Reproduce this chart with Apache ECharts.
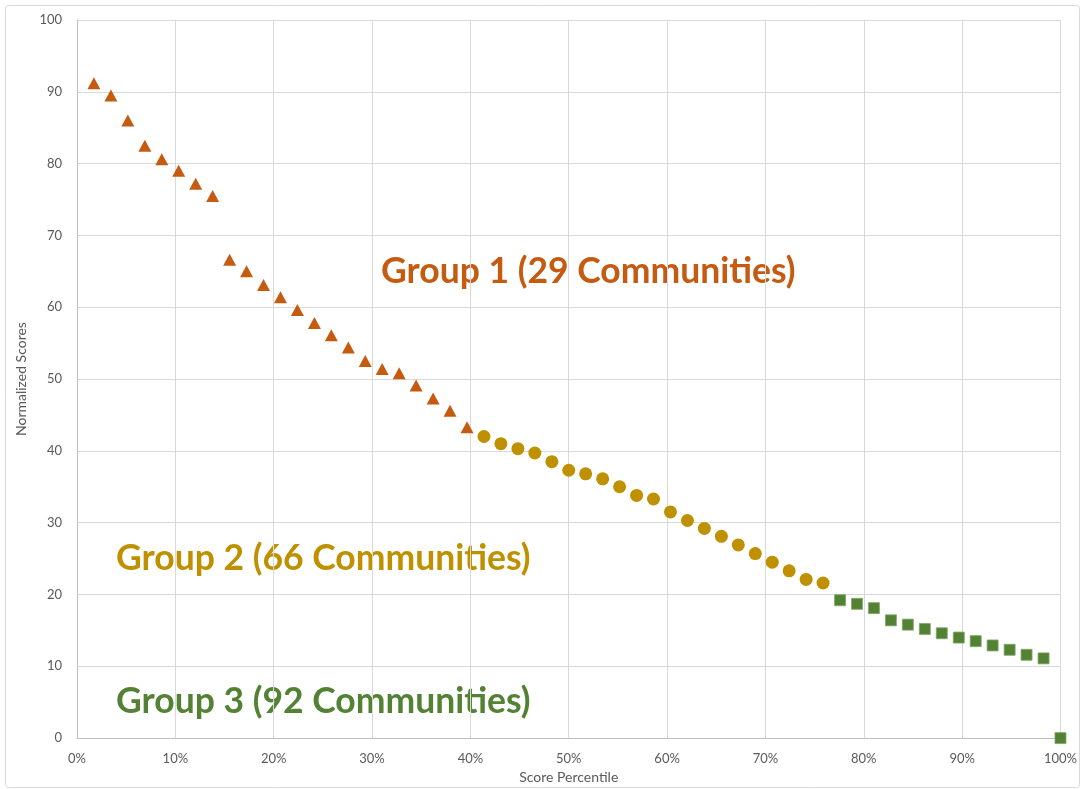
<!DOCTYPE html>
<html style="height: 100%">
<head>
    <meta charset="utf-8">
</head>
<body style="height: 100%; margin: 0; background: #fff">
<div id="container" style="width: 1080px; height: 789px"></div>
<script src="https://cdn.jsdelivr.net/npm/echarts@6/dist/echarts.min.js"></script>
<script type="text/javascript">
    // percentile rank of each community, and its normalized score
    var group1Pct = [1.72, 3.45, 5.17, 6.90, 8.62, 10.34, 12.07, 13.79, 15.52, 17.24, 18.97, 20.69,
        22.41, 24.14, 25.86, 27.59, 29.31, 31.03, 32.76, 34.48, 36.21, 37.93, 39.66];
    var group1Score = [91.2, 89.5, 86.0, 82.5, 80.6, 79.0, 77.2, 75.5, 66.6, 65.0, 63.1, 61.4,
        59.6, 57.8, 56.1, 54.4, 52.5, 51.4, 50.8, 49.1, 47.3, 45.6, 43.3];

    var group2Pct = [41.38, 43.10, 44.83, 46.55, 48.28, 50.00, 51.72, 53.45, 55.17, 56.90, 58.62,
        60.34, 62.07, 63.79, 65.52, 67.24, 68.97, 70.69, 72.41, 74.14, 75.86];
    var group2Score = [42.0, 41.0, 40.3, 39.7, 38.5, 37.3, 36.8, 36.1, 35.0, 33.8, 33.3,
        31.5, 30.3, 29.2, 28.1, 26.9, 25.7, 24.5, 23.3, 22.1, 21.6];

    var group3Pct = [77.59, 79.31, 81.03, 82.76, 84.48, 86.21, 87.93, 89.66, 91.38, 93.10,
        94.83, 96.55, 98.28, 100];
    var group3Score = [19.2, 18.7, 18.1, 16.4, 15.8, 15.2, 14.6, 14.0, 13.5, 12.9,
        12.3, 11.6, 11.1, 0];

    var groupLabels = ['Group 1 (29 Communities)', 'Group 2 (66 Communities)', 'Group 3 (92 Communities)'];
    var colors = ['#C55A11', '#BF9000', '#548235'];

    function pairs(xs, ys) {
        return xs.map(function (x, i) { return [x, ys[i]]; });
    }

    var dom = document.getElementById("container");
    var myChart = echarts.init(dom);
    var labelFont = 'Lato, "Noto Sans", sans-serif';

    var option = {
        animation: false,
        grid: {left: 77, right: 17, top: 20, bottom: 48},
        xAxis: {
            type: 'value',
            min: 0, max: 100, interval: 10,
            name: 'Score Percentile',
            nameLocation: 'middle',
            nameGap: 23,
            nameTextStyle: {color: '#595959', fontSize: 14, fontFamily: labelFont},
            axisLine: {show: true, lineStyle: {color: '#BFBFBF'}},
            axisTick: {show: false},
            axisLabel: {color: '#595959', fontSize: 13, formatter: '{value}%', margin: 14, fontFamily: labelFont},
            splitLine: {show: true, lineStyle: {color: '#D9D9D9'}}
        },
        yAxis: {
            type: 'value',
            min: 0, max: 100, interval: 10,
            name: 'Normalized Scores',
            nameLocation: 'middle',
            nameGap: 48,
            nameTextStyle: {color: '#595959', fontSize: 14, fontFamily: labelFont},
            axisLine: {show: true, lineStyle: {color: '#BFBFBF'}},
            axisTick: {show: false},
            axisLabel: {color: '#595959', fontSize: 13, margin: 15, fontFamily: labelFont},
            splitLine: {show: true, lineStyle: {color: '#D9D9D9'}}
        },
        series: [
            {
                type: 'scatter', name: groupLabels[0],
                symbol: 'triangle', symbolSize: [13, 12],
                itemStyle: {color: colors[0], opacity: 1},
                data: pairs(group1Pct, group1Score)
            },
            {
                type: 'scatter', name: groupLabels[1],
                symbol: 'circle', symbolSize: 13,
                itemStyle: {color: colors[1], opacity: 1},
                data: pairs(group2Pct, group2Score)
            },
            {
                type: 'scatter', name: groupLabels[2],
                symbol: 'rect', symbolSize: 11,
                itemStyle: {color: colors[2], opacity: 1, borderColor: '#7FA866', borderWidth: 0.8},
                data: pairs(group3Pct, group3Score)
            }
        ],
        graphic: [
            {type: 'rect', left: 3, top: 3, shape: {width: 1074, height: 782, r: 3},
                style: {fill: 'none', stroke: '#D9D9D9', lineWidth: 1}, silent: true},
            {type: 'text', left: 381, top: 254, style: {text: groupLabels[0], fill: colors[0], font: 'bold 35.5px ' + labelFont}},
            {type: 'text', left: 116, top: 541, style: {text: groupLabels[1], fill: colors[1], font: 'bold 35.5px ' + labelFont}},
            {type: 'text', left: 116, top: 684, style: {text: groupLabels[2], fill: colors[2], font: 'bold 35.5px ' + labelFont}}
        ]
    };
    myChart.setOption(option);
</script>
</body>
</html>
